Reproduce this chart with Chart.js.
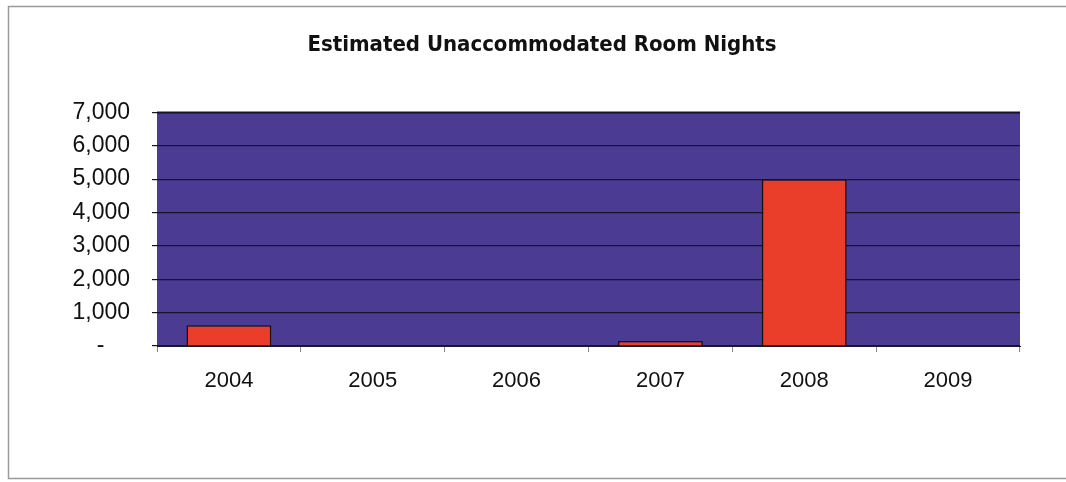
<!DOCTYPE html>
<html>
<head>
<meta charset="utf-8">
<script src="https://cdn.jsdelivr.net/npm/chart.js@4.4.1/dist/chart.umd.min.js"></script>
<style>
    html, body { margin: 0; padding: 0; background: #ffffff; }
    #wrap { position: relative; width: 1066px; height: 482px; }
</style>
</head>
<body>
<div id="wrap"><canvas id="roomChart" width="1066" height="482"></canvas></div>
<script>
const years = ['2004', '2005', '2006', '2007', '2008', '2009'];
const roomNights = [620, 0, 0, 150, 5000, 0];
const yTicks = [0, 1000, 2000, 3000, 4000, 5000, 6000, 7000];

// fills the plot area and draws the outer frame
const plotBackground = {
    id: 'plotBackground',
    beforeDraw(chart) {
        const { ctx, chartArea: a } = chart;
        ctx.save();
        ctx.fillStyle = '#ffffff';
        ctx.fillRect(0, 0, chart.width, chart.height);
        ctx.strokeStyle = '#9a9a9a';
        ctx.lineWidth = 1.5;
        ctx.strokeRect(8.5, 6.5, chart.width - 6, chart.height - 10);
        ctx.fillStyle = '#4b3b92';
        ctx.fillRect(a.left, a.top, a.right - a.left, a.bottom - a.top);
        ctx.strokeStyle = '#1a1a2a';
        ctx.lineWidth = 2;
        ctx.beginPath();
        ctx.moveTo(a.left, a.top);
        ctx.lineTo(a.right, a.top);
        ctx.stroke();
        ctx.restore();
    }
};

const ctx = document.getElementById('roomChart').getContext('2d');
const roomChart = new Chart(ctx, {
    type: 'bar',
    data: {
        labels: years,
        datasets: [{
            label: 'Unaccommodated Room Nights',
            data: roomNights,
            backgroundColor: '#ea3d2a',
            borderColor: '#1a1010',
            borderWidth: 1.5,
            barPercentage: 0.59,
            categoryPercentage: 1
        }]
    },
    options: {
        responsive: false,
        animation: false,
        layout: { padding: { left: 64, right: 46, top: 20, bottom: 0 } },
        plugins: {
            legend: { display: false },
            tooltip: { enabled: false },
            title: {
                display: true,
                text: 'Estimated Unaccommodated Room Nights',
                color: '#111111',
                font: { family: "'Liberation Sans Narrow', 'Arial Narrow', 'DejaVu Sans Condensed', sans-serif", size: 22, weight: 'bold' },
                padding: { top: 12, bottom: 54 }
            }
        },
        scales: {
            x: {
                grid: {
                    offset: true,
                    drawOnChartArea: false,
                    color: '#888888',
                    tickLength: 6
                },
                border: { color: '#1a1a2a', width: 1 },
                ticks: {
                    color: '#111111',
                    font: { family: "'Liberation Sans', Arial, sans-serif", size: 22 },
                    padding: 16
                },
                afterFit(scale) { scale.height = 136; }
            },
            y: {
                min: 0,
                max: 7000,
                afterBuildTicks(scale) { scale.ticks = yTicks.map(v => ({ value: v })); },
                grid: {
                    color: '#15152a',
                    lineWidth: 1.2,
                    tickLength: 5
                },
                border: { display: false },
                ticks: {
                    color: '#111111',
                    font: { family: "'Liberation Sans', Arial, sans-serif", size: 23 },
                    padding: 22,
                    callback: v => v === 0 ? '-    ' : v.toLocaleString('en-US')
                },
                afterFit(scale) { scale.width = 93; }
            }
        }
    },
    plugins: [plotBackground]
});
</script>
</body>
</html>
